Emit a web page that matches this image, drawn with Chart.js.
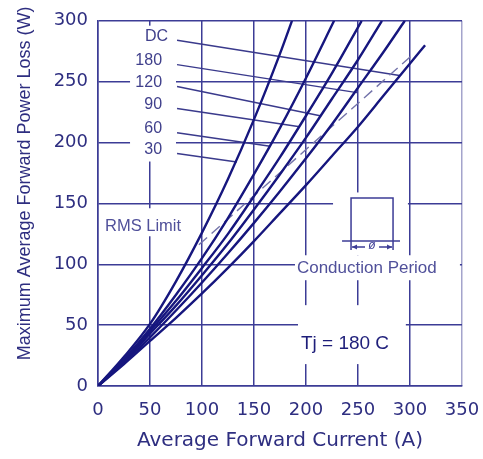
<!DOCTYPE html>
<html lang="en">
<head>
  <meta charset="UTF-8" />
  <title>Maximum Average Forward Power Loss</title>
  <style>
    html, body { margin: 0; padding: 0; background: #fff; }
  </style>
</head>
<body>
  <canvas id="lossChart" width="483" height="459"></canvas>
  <script src="https://cdn.jsdelivr.net/npm/chart.js@4.4.1/dist/chart.umd.min.js"></script>
  <script>
    // tick labels
    const currentTicks = [0, 50, 100, 150, 200, 250, 300, 350];
    const powerTicks = [0, 50, 100, 150, 200, 250, 300];

    // curves: average current (A) vs power loss (W)
    const i30 = [0, 25, 50, 75, 100, 125, 150, 175, 186.5];
    const p30 = [0, 24, 51, 86, 126, 170, 219, 273, 300];
    const i60 = [0, 25, 50, 75, 100, 125, 150, 175, 200, 227];
    const p60 = [0, 22, 47, 75, 105, 138, 174, 212, 253, 300];
    const i90 = [0, 25, 50, 75, 100, 125, 150, 175, 200, 225, 253.5];
    const p90 = [0, 21, 45, 70, 97, 125, 156, 188, 222, 257, 300];
    const i120 = [0, 25, 50, 75, 100, 125, 150, 175, 200, 225, 250, 273];
    const p120 = [0, 20.5, 43, 66, 91, 117, 145, 174, 204, 236, 268, 300];
    const i180 = [0, 25, 50, 75, 100, 125, 150, 175, 200, 225, 250, 275, 295];
    const p180 = [0, 19.5, 40, 62, 85, 109, 134, 160, 187, 215, 245, 275, 300];
    const iDC = [0, 25, 50, 75, 100, 125, 150, 175, 200, 225, 250, 275, 300, 314.5];
    const pDC = [0, 18, 37, 56, 76, 97, 119, 142, 165, 189, 213, 239, 265, 280];

    // RMS limit (dashed)
    const rmsI = [97, 301];
    const rmsP = [116, 271];

    // curve labels and their leader lines
    const leaderLabels = ['DC', '180', '120', '90', '60', '30'];
    const leaderStartI = [76, 76, 76, 76, 76, 76];
    const leaderStartP = [284, 264, 246, 228, 208, 191];
    const leaderEndI = [290, 249, 213.5, 194, 165.5, 133.5];
    const leaderEndP = [255, 241, 222, 213, 197, 184];

    const ink = '#16167e';
    const gridInk = '#3c3c96';
    const textInk = '#2e2e80';

    const toPoints = (xs, ys) => xs.map((v, k) => ({ x: v, y: ys[k] }));

    const curves = [
      [i30, p30], [i60, p60], [i90, p90], [i120, p120], [i180, p180], [iDC, pDC]
    ].map(([xs, ys]) => ({
      data: toPoints(xs, ys),
      borderColor: ink,
      borderWidth: 2.4,
      showLine: true,
      pointRadius: 0,
      cubicInterpolationMode: 'monotone'
    }));

    const rmsLine = {
      data: toPoints(rmsI, rmsP),
      borderColor: '#7474aa',
      borderWidth: 1.4,
      borderDash: [11, 6],
      showLine: true,
      pointRadius: 0
    };

    const leaders = leaderLabels.map((_, k) => ({
      data: [
        { x: leaderStartI[k], y: leaderStartP[k] },
        { x: leaderEndI[k], y: leaderEndP[k] }
      ],
      borderColor: '#3a3a8c',
      borderWidth: 1.5,
      showLine: true,
      pointRadius: 0
    }));

    // white patches behind the notes, in data units [i0, i1, pTop, pBottom]
    const clearBoxes = [
      [30.8, 75, 296, 184.4],
      [3.8, 84.6, 146, 123],
      [226, 298, 159, 107.4],
      [189.4, 348, 107.4, 86.9],
      [192.3, 296, 66.4, 18]
    ];

    const notes = {
      id: 'notes',
      beforeDatasetsDraw(chart) {
        const { ctx, scales: { x, y } } = chart;
        ctx.save();
        ctx.fillStyle = '#ffffff';
        clearBoxes.forEach(b => {
          const l = x.getPixelForValue(b[0]), r = x.getPixelForValue(b[1]);
          const t = y.getPixelForValue(b[2]), btm = y.getPixelForValue(b[3]);
          ctx.fillRect(l, t, r - l, btm - t);
        });
        ctx.restore();
      },
      afterDatasetsDraw(chart) {
        const { ctx, scales: { x, y } } = chart;
        ctx.save();

        // curve labels
        ctx.font = '16px "Liberation Sans", Arial, sans-serif';
        ctx.fillStyle = '#40408c';
        ctx.textAlign = 'right';
        ctx.textBaseline = 'middle';
        leaderLabels.forEach((t, k) => {
          ctx.fillText(t, x.getPixelForValue(leaderStartI[k]) - (k === 0 ? 9 : 15),
            y.getPixelForValue(leaderStartP[k]) - 4);
        });

        ctx.fillStyle = '#50509a';
        ctx.font = '16.5px "Liberation Sans", Arial, sans-serif';
        ctx.textAlign = 'left';
        ctx.fillText('RMS Limit', x.getPixelForValue(6.7), y.getPixelForValue(131));
        ctx.textAlign = 'center';
        ctx.font = '17px "Liberation Sans", Arial, sans-serif';
        ctx.fillText('Conduction Period', x.getPixelForValue(258.5), y.getPixelForValue(96.7));

        ctx.fillStyle = '#1e1e7a';
        ctx.font = '19px "Liberation Sans", Arial, sans-serif';
        ctx.fillText('Tj = 180 C', x.getPixelForValue(237.5), y.getPixelForValue(34.4));

        // conduction period sketch
        const cx = x.getPixelForValue(263.5), cy = y.getPixelForValue(119.1);
        ctx.strokeStyle = gridInk;
        ctx.lineWidth = 1.5;
        ctx.beginPath();
        ctx.moveTo(cx - 30, cy); ctx.lineTo(cx + 28, cy);
        ctx.moveTo(cx - 21, cy + 9); ctx.lineTo(cx - 21, cy - 43);
        ctx.lineTo(cx + 21, cy - 43); ctx.lineTo(cx + 21, cy + 9);
        ctx.moveTo(cx - 20, cy + 6); ctx.lineTo(cx - 7, cy + 6);
        ctx.moveTo(cx + 7, cy + 6); ctx.lineTo(cx + 20, cy + 6);
        ctx.stroke();
        ctx.fillStyle = gridInk;
        ctx.beginPath();
        ctx.moveTo(cx - 20, cy + 6); ctx.lineTo(cx - 15, cy + 3.5); ctx.lineTo(cx - 15, cy + 8.5);
        ctx.closePath();
        ctx.moveTo(cx + 20, cy + 6); ctx.lineTo(cx + 15, cy + 3.5); ctx.lineTo(cx + 15, cy + 8.5);
        ctx.closePath();
        ctx.fill();
        ctx.font = 'italic 12px "Liberation Sans", Arial, sans-serif';
        ctx.textBaseline = 'middle';
        ctx.fillText('ø', cx, cy + 5);

        ctx.restore();
      }
    };

    new Chart(document.getElementById('lossChart'), {
      type: 'scatter',
      data: { datasets: [...curves, rmsLine, ...leaders] },
      options: {
        responsive: false,
        animation: false,
        layout: { padding: { top: 20, right: 21, left: 0, bottom: 0 } },
        plugins: { legend: { display: false }, tooltip: { enabled: false } },
        scales: {
          x: {
            type: 'linear',
            min: 0,
            max: 350,
            afterBuildTicks: s => { s.ticks = currentTicks.map(v => ({ value: v })); },
            afterFit: s => { s.height = 73; s.paddingLeft = 0; s.paddingRight = 0; },
            grid: {
              color: ctx => (ctx.tick && ctx.tick.value === 350 ? '#a4a4cc' : gridInk),
              lineWidth: 1.5,
              drawTicks: false
            },
            border: { color: gridInk, width: 1.5 },
            ticks: {
              padding: 14,
              color: textInk,
              maxRotation: 0,
              font: { family: '"DejaVu Sans", sans-serif', size: 18 }
            },
            title: {
              display: true,
              text: 'Average Forward Current (A)',
              color: textInk,
              padding: { top: 0, bottom: 6 },
              font: { family: '"DejaVu Sans", sans-serif', size: 20 }
            }
          },
          y: {
            type: 'linear',
            min: 0,
            max: 300,
            afterBuildTicks: s => { s.ticks = powerTicks.map(v => ({ value: v })); },
            afterFit: s => { s.width = 98; },
            grid: { color: gridInk, lineWidth: 1.5, drawTicks: false },
            border: { color: gridInk, width: 1.5 },
            ticks: {
              padding: 10,
              color: textInk,
              font: { family: '"DejaVu Sans", sans-serif', size: 18 }
            },
            title: {
              display: true,
              // leading spaces lift the title the way the original sits
              text: '        Maximum Average Forward Power Loss (W)',
              color: textInk,
              padding: { top: 14, bottom: 0 },
              font: { family: '"Liberation Sans", Arial, sans-serif', size: 18 }
            }
          }
        }
      },
      plugins: [notes]
    });
  </script>
</body>
</html>
